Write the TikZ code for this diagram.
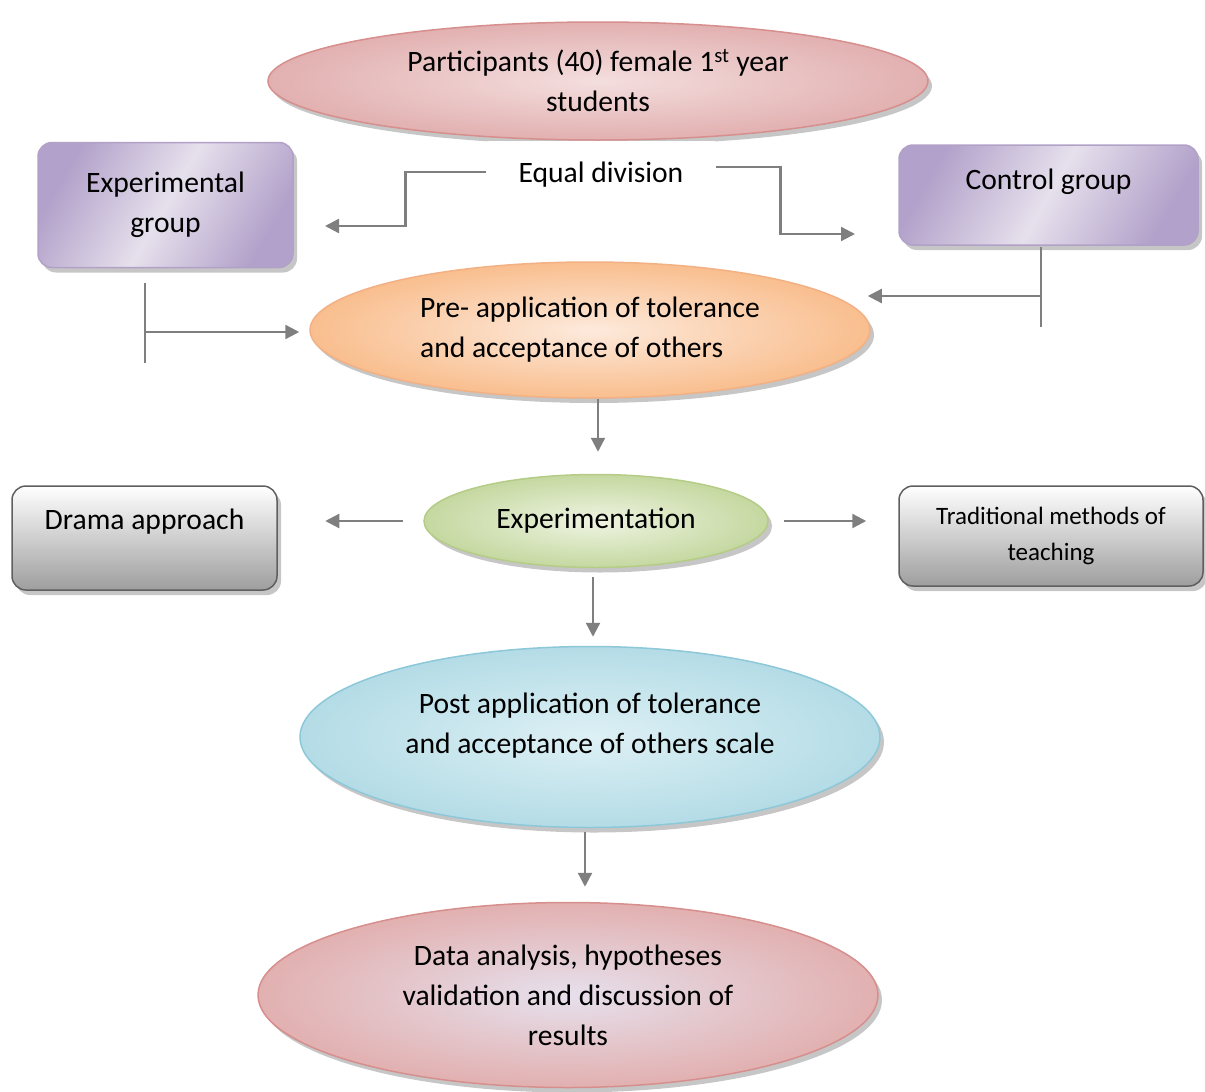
\documentclass[tikz,border=0pt]{standalone}
\usepackage{fontspec}
\setmainfont{Carlito}
\usepackage{tikz}
\usetikzlibrary{shapes.geometric}
\usetikzlibrary{shadows}
\usetikzlibrary{arrows.meta}
\definecolor{arrowgrey}{HTML}{7F7F7F}
\definecolor{pinkedge}{HTML}{D68F8D}
\definecolor{pinklight}{HTML}{F4DEDE}
\definecolor{pinkdark}{HTML}{E2B0B0}
\definecolor{lavender}{HTML}{E6E0EC}
\definecolor{purpleedge}{HTML}{B2A1C7}
\definecolor{purpledark}{HTML}{B2A1CA}
\definecolor{orangeedge}{HTML}{F2B184}
\definecolor{orangelight}{HTML}{FDEADC}
\definecolor{orangedark}{HTML}{F9BE8E}
\definecolor{greenedge}{HTML}{B5CC87}
\definecolor{greenlight}{HTML}{EEF4E2}
\definecolor{greendark}{HTML}{C5D8A0}
\definecolor{blueedge}{HTML}{8DC8D9}
\definecolor{bluelight}{HTML}{DDF0F5}
\definecolor{bluedark}{HTML}{B4DCE6}
\definecolor{greyedge}{HTML}{5F5F5F}
\definecolor{greydark}{HTML}{9E9E9E}
\newcommand{\bodysize}{\fontsize{29.6pt}{40pt}\selectfont}
\newcommand{\smallsize}{\fontsize{25pt}{36pt}\selectfont}
\tikzset{
	softshadow/.style={drop shadow={shadow xshift=4pt,shadow yshift=-5pt,fill=black!50,opacity=.45}},
	flowellipse/.style={ellipse,draw=#1,line width=1.5pt,inner sep=0pt,align=center,font=\bodysize,softshadow},
	groupbox/.style={rounded corners=14pt,draw=purpleedge,line width=1.5pt,align=center,font=\bodysize,
		left color=purpledark,right color=purpledark,middle color=lavender,shading angle=60,softshadow},
	methodbox/.style={rounded corners=14pt,draw=greyedge,line width=1.5pt,align=center,
		top color=white,bottom color=greydark,softshadow},
	linkline/.style={draw=arrowgrey,line width=2.3pt},
	arr/.style={linkline,-{Triangle[length=14pt,width=14pt]}},
}
\begin{document}
\begin{tikzpicture}[x=1pt,y=-1pt]
	\useasboundingbox (0,0) rectangle (1205,1092);
	% ellipses of the main flow
	\node[flowellipse=pinkedge,inner color=pinklight,outer color=pinkdark,minimum width=660pt,minimum height=118pt] (part) at (598,81) {Participants (40) female 1\textsuperscript{st} year\\students};
	\node[fill=white,inner xsep=32pt,inner ysep=0pt,minimum height=68pt,font=\bodysize] (eq) at (601,175) {Equal division};
	\node[flowellipse=orangeedge,inner color=orangelight,outer color=orangedark,minimum width=560pt,minimum height=136pt,align=left] (pre) at (590,330) {Pre- application of tolerance\\and acceptance of others};
	\node[flowellipse=greenedge,inner color=greenlight,outer color=greendark,minimum width=344pt,minimum height=93pt] (expt) at (596,521) {Experimentation};
	\node[flowellipse=blueedge,inner color=bluelight,outer color=bluedark,minimum width=580pt,minimum height=181pt,text depth=28pt] (post) at (590,737) {Post application of tolerance\\and acceptance of others scale};
	\node[flowellipse=pinkedge,inner color=lavender,outer color=pinkdark,minimum width=620pt,minimum height=185pt] (data) at (568,995) {Data analysis, hypotheses\\validation and discussion of\\results};
	% side boxes
	\node[groupbox,minimum width=255pt,minimum height=125pt] (expg) at (165.5,205) {Experimental\\group};
	\node[groupbox,minimum width=299pt,minimum height=100pt,text height=20pt,text depth=31pt] (ctlg) at (1048.5,195) {Control group};
	\node[methodbox,font=\bodysize,minimum width=265pt,minimum height=104pt,text height=20pt,text depth=38pt] (drama) at (144.5,538) {Drama approach};
	\node[methodbox,font=\smallsize,minimum width=304pt,minimum height=100pt] (trad) at (1051,536) {Traditional methods of\\teaching};
	% free ends of the side connectors
	\coordinate (expin) at (325,226);
	\coordinate (ctlin) at (855,234);
	\coordinate (expT) at (145,283);
	\coordinate (expB) at (145,363);
	\coordinate (ctlT) at (1041,247);
	\coordinate (ctlB) at (1041,327);
	% connectors
	\draw[arr] ([yshift=3pt]eq.west) -- ++(-81,0) |- (expin);
	\draw[arr] ([yshift=8pt]eq.east) -- ++(65,0) |- (ctlin);
	\draw[linkline] (expT) -- (expB);
	\draw[arr] (expT |- pre.west) ++(0,2) -- ([xshift=-10pt,yshift=-2pt]pre.west);
	\draw[linkline] (ctlT) -- (ctlB);
	\draw[arr] (ctlT |- 0,296) -- ([xshift=-3pt]pre.east |- 0,296);
	\draw[arr] ([xshift=8pt]pre.south) -- ([xshift=2pt,yshift=22pt]expt.north);
	\draw[arr] ([xshift=-20pt]expt.west) -- ([xshift=-98pt]expt.west);
	\draw[arr] ([xshift=15pt]expt.east) -- ([xshift=-32pt]trad.west |- expt.east);
	\draw[arr] ([xshift=-3pt,yshift=-9pt]expt.south) -- ([xshift=3pt,yshift=9pt]post.north);
	\draw[arr] ([xshift=-5pt,yshift=-4pt]post.south) -- ([xshift=17pt,yshift=15pt]data.north);
\end{tikzpicture}
\end{document}
